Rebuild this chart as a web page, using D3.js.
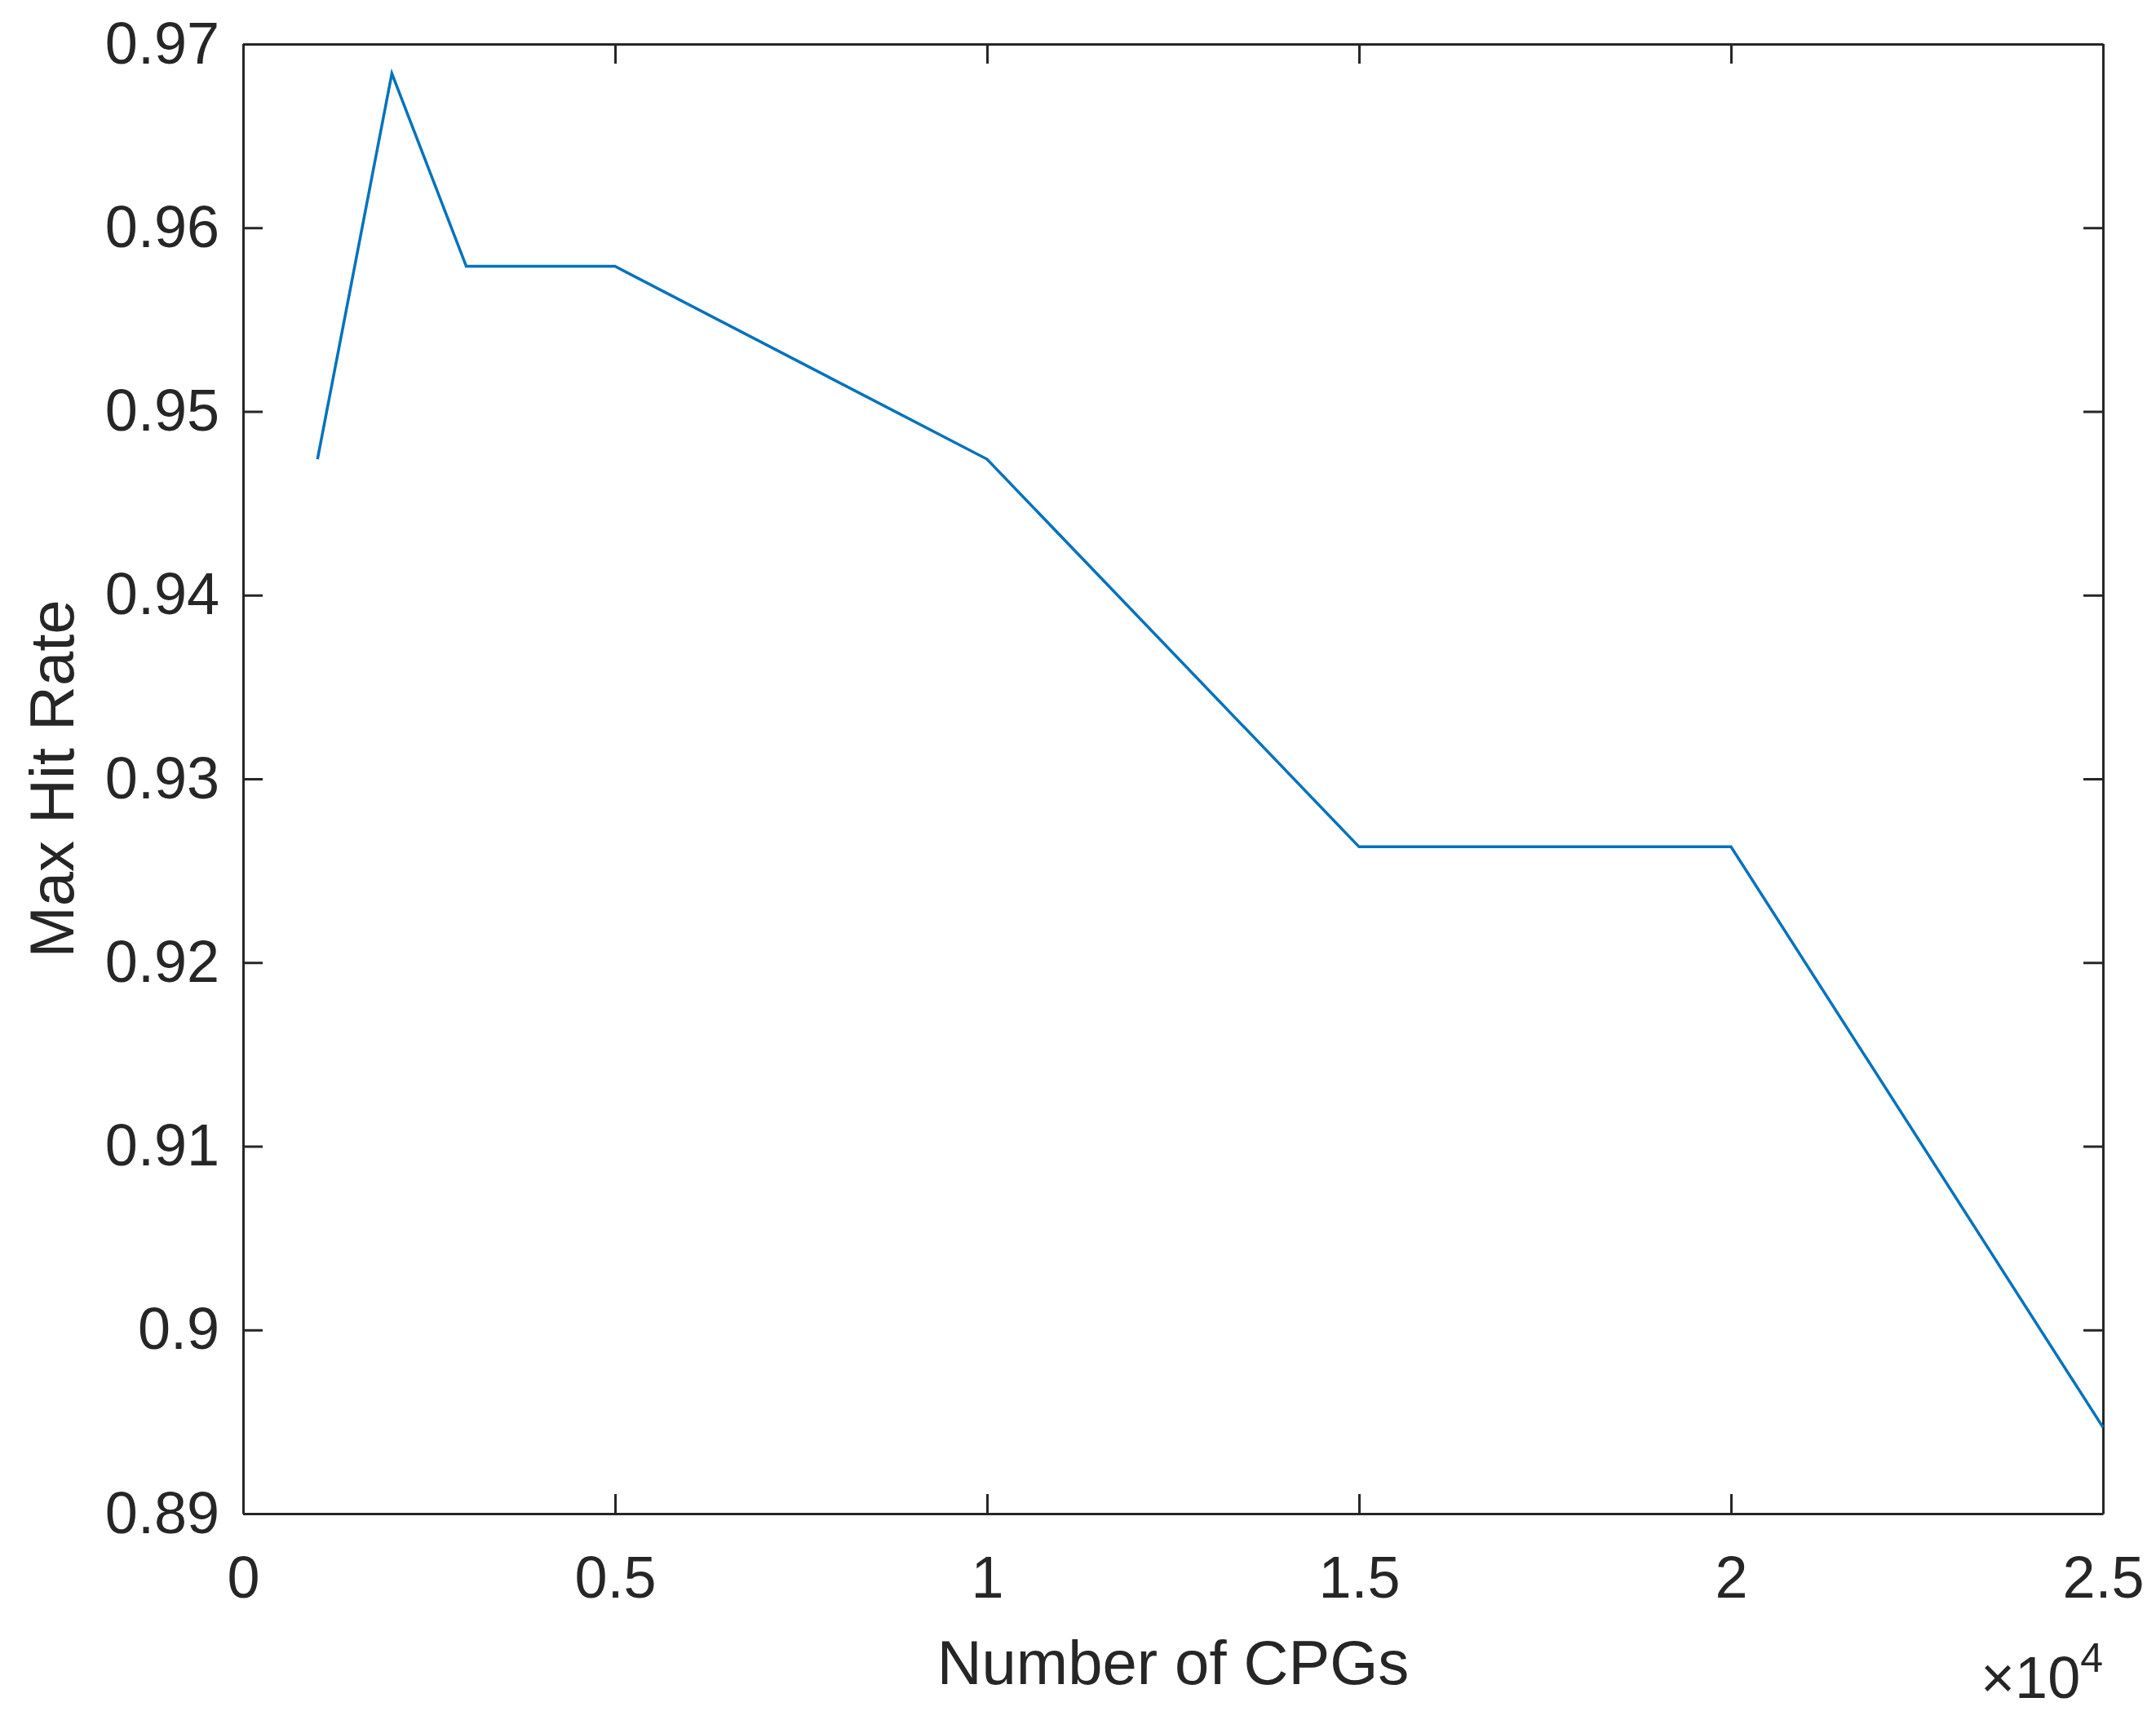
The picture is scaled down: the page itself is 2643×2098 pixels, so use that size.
<!DOCTYPE html>
<html><head><meta charset="utf-8">
<script src="https://cdn.jsdelivr.net/npm/d3@7"></script>
<style>body{margin:0;background:#fff}text{font-family:"Liberation Sans",Arial,sans-serif;fill:#262626}</style>
</head><body>
<script>
const cpgs = [1000, 2000, 3000, 5000, 10000, 15000, 20000, 25000];
const hitRate = [0.9474, 0.9684, 0.9579, 0.9579, 0.9474, 0.9263, 0.9263, 0.8947];
const xTicks = [0, 5000, 10000, 15000, 20000, 25000];
const xTickLabels = ["0", "0.5", "1", "1.5", "2", "2.5"];
const yTicks = [0.89, 0.90, 0.91, 0.92, 0.93, 0.94, 0.95, 0.96, 0.97];
const yTickLabels = ["0.89", "0.9", "0.91", "0.92", "0.93", "0.94", "0.95", "0.96", "0.97"];

const W = 2643, H = 2098;
const m = {l: 298, r: 65, t: 54, b: 242};
const w = W - m.l - m.r, h = H - m.t - m.b;
const fs = 72, tl = 24, ink = "#262626";

const svg = d3.select("body").append("svg").attr("width", W).attr("height", H);
const g = svg.append("g").attr("transform", `translate(${m.l},${m.t})`);
const x = d3.scaleLinear().domain([0, 25000]).range([0, w]);
const y = d3.scaleLinear().domain([0.89, 0.97]).range([h, 0]);

function style(sel) {
  sel.select(".domain").attr("stroke", ink).attr("stroke-width", 3);
  sel.selectAll(".tick line").attr("stroke", ink).attr("stroke-width", 3);
  sel.selectAll("text").attr("font-size", fs).attr("fill", ink);
}
g.append("g").attr("transform", `translate(0,${h})`)
  .call(d3.axisBottom(x).tickValues(xTicks).tickFormat((d, i) => xTickLabels[i]).tickSizeInner(-tl).tickSizeOuter(0).tickPadding(52))
  .call(style);
g.append("g").call(d3.axisTop(x).tickValues(xTicks).tickFormat("").tickSizeInner(-tl).tickSizeOuter(0)).call(style);
g.append("g")
  .call(d3.axisLeft(y).tickValues(yTicks).tickFormat((d, i) => yTickLabels[i]).tickSizeInner(-tl).tickSizeOuter(0).tickPadding(29))
  .call(style);
g.append("g").attr("transform", `translate(${w},0)`)
  .call(d3.axisRight(y).tickValues(yTicks).tickFormat("").tickSizeInner(-tl).tickSizeOuter(0)).call(style);

const line = d3.line().x((d, i) => x(cpgs[i])).y(d => y(d));
g.append("path").datum(hitRate).attr("d", line)
  .attr("fill", "none").attr("stroke", "#0072BD").attr("stroke-width", 3.5);

g.append("text").attr("x", w / 2).attr("y", h + 209).attr("text-anchor", "middle")
  .attr("font-size", 76).text("Number of CPGs");
g.append("text").attr("transform", `translate(-208,${h / 2}) rotate(-90)`)
  .attr("text-anchor", "middle").attr("font-size", 76).text("Max Hit Rate");
const ex = g.append("text").attr("x", w).attr("y", h + 226).attr("text-anchor", "end").attr("font-size", fs);
ex.append("tspan").text("\u00d710");
ex.append("tspan").attr("dy", -32).attr("font-size", 50).text("4");
</script>
</body></html>
